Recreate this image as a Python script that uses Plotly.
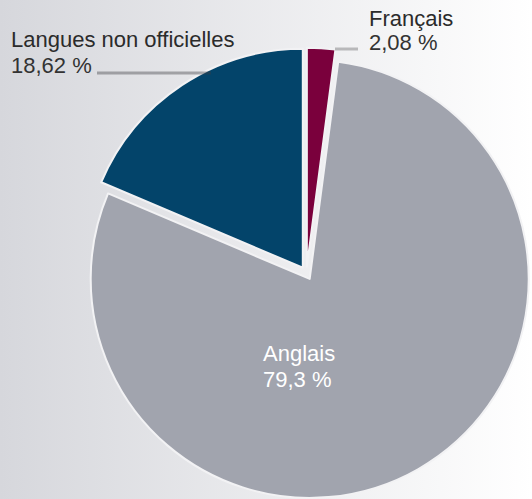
import plotly.graph_objects as go

W, H = 532, 499

labels = ["Français", "Anglais", "Langues non officielles"]
values = [2.08, 79.3, 18.62]
value_text = ["2,08 %", "79,3 %", "18,62 %"]
colors = ["#7a003c", "#a1a4ae", "#03446a"]
pulls = [0.03, 0.03, 0.03]

fig = go.Figure(go.Pie(
    labels=labels, values=values, sort=False, direction="clockwise", rotation=0,
    pull=pulls, textinfo="none", hoverinfo="label+percent",
    marker=dict(colors=colors, line=dict(color="#f2f2f4", width=2)),
    domain=dict(x=[0.152, 1.0], y=[0.0, 0.905]),
    showlegend=False,
))

# gradient background
svg = ("<svg xmlns='http://www.w3.org/2000/svg' width='532' height='499'>"
       "<defs><linearGradient id='g' x1='0' y1='0' x2='1' y2='0'>"
       "<stop offset='0' stop-color='#d6d7dc'/><stop offset='1' stop-color='#ffffff'/>"
       "</linearGradient></defs><rect width='532' height='499' fill='url(#g)'/></svg>")
svg = svg.replace("<", "%3C").replace(">", "%3E").replace("#", "%23").replace("'", "%27")
fig.add_layout_image(dict(source="data:image/svg+xml;charset=utf-8," + svg,
                          xref="paper", yref="paper", x=0, y=1, sizex=1, sizey=1,
                          sizing="stretch", layer="below", xanchor="left", yanchor="top"))

def px(x):
    return x / W

def py(y):
    return 1 - y / H

font = "Liberation Sans, Arial, sans-serif"

def label(x, y, txt, color):
    fig.add_annotation(x=px(x), y=py(y), xref="paper", yref="paper", xanchor="left",
                       yanchor="middle", text=txt, showarrow=False,
                       font=dict(family=font, size=22, color=color))

label(9, 40, labels[2], "#2b2b2b")
label(9, 65.5, value_text[2], "#333333")
label(367, 18, labels[0], "#2b2b2b")
label(367, 43, value_text[0], "#333333")
label(261, 353.5, labels[1], "#ffffff")
label(261, 379, value_text[1], "#ffffff")

fig.add_shape(type="line", xref="paper", yref="paper", x0=px(97), x1=px(211), y0=py(73), y1=py(73),
              line=dict(color="rgba(60,60,64,0.4)", width=3))
fig.add_shape(type="line", xref="paper", yref="paper", x0=px(335), x1=px(358), y0=py(49), y1=py(49),
              line=dict(color="#b8b8ba", width=3))

fig.update_layout(width=W, height=H, margin=dict(l=0, r=0, t=0, b=0),
                  paper_bgcolor="#ffffff", plot_bgcolor="rgba(0,0,0,0)")
fig.write_html("out.html", config={"displayModeBar": False},
               post_script="document.body.style.margin='0';")
